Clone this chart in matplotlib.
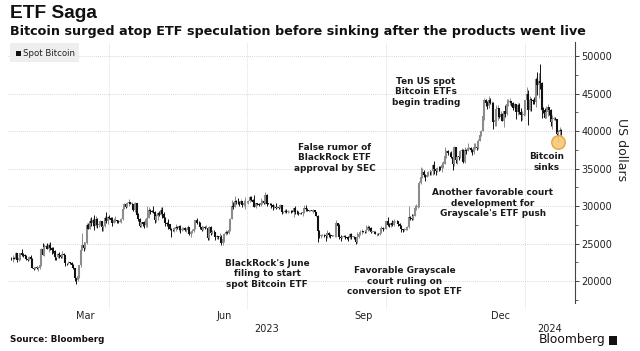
import matplotlib
matplotlib.use("Agg")
import matplotlib.pyplot as plt
import matplotlib.dates as mdates
import matplotlib.transforms as mtransforms
from matplotlib.patches import Rectangle
import numpy as np
import datetime as dt

# ---------------- data (USD thousands, daily, from 2023-01-26) ----------------
start_date = dt.date(2023, 1, 26)
first_open = 23.05

closes = [
    23.01, 23.08, 22.96, 23.75, 22.84, 23.13,
    23.73, 23.49, 23.43, 23.33, 22.94, 22.76, 23.26, 22.95, 21.80, 21.63, 21.86, 21.79, 21.79, 22.20,
    24.33, 23.53, 24.57, 24.63, 24.28, 24.84, 24.44, 24.19, 23.95, 23.20, 23.16, 23.56, 23.49, 23.15,
    23.65, 23.48, 22.36, 22.35, 22.43, 22.41, 22.20, 21.72, 20.36, 20.19, 20.63, 22.16, 24.20, 24.75,
    24.38, 25.06, 27.42, 26.97, 28.04, 27.77, 28.18, 27.31, 28.33, 27.49, 27.49, 28.00, 27.14, 27.27, 28.35, 28.03, 28.48,
    28.46, 28.20, 27.79, 28.17, 28.17, 28.03, 27.92, 27.95, 28.33, 29.65, 30.23, 29.89, 30.40, 30.49, 30.32,
    30.32, 29.45, 30.40, 28.82, 28.25, 27.28, 27.82, 27.59, 27.53, 28.31, 28.42, 29.47, 29.34, 29.25, 29.23,
    28.09, 28.68, 29.03, 28.85, 29.53, 28.90, 28.45, 27.69, 27.65, 27.62, 26.99, 26.80, 26.78, 26.93, 27.19,
    27.03, 27.40, 26.83, 26.89, 27.12, 26.75, 26.85, 27.23, 26.33, 26.47, 26.72, 26.87, 28.09, 27.75, 27.70, 27.22,
    26.82, 27.25, 27.07, 27.12, 25.76, 27.24, 26.35, 26.50, 26.48, 25.85, 25.94, 25.90, 25.92, 25.12, 25.58,
    26.33, 26.51, 26.34, 26.85, 28.33, 30.03, 29.91, 30.70, 30.55, 30.48, 30.27, 30.69, 30.09, 30.45, 30.48,
    30.59, 30.62, 31.16, 30.77, 30.51, 29.91, 30.35, 30.29, 30.17, 30.41, 30.62, 30.39, 31.48, 30.31, 30.30,
    30.25, 30.14, 29.86, 29.91, 29.80, 29.91, 29.79, 30.08, 29.18, 29.23, 29.35, 29.21, 29.31, 29.35, 29.28, 29.23,
    29.70, 29.18, 29.17, 28.87, 29.05, 29.04, 29.18, 29.77, 29.58, 29.44, 29.40, 29.42, 29.28, 29.41, 29.17,
    28.70, 26.66, 26.05, 26.10, 26.19, 26.12, 26.04, 26.43, 26.16, 26.05, 26.01, 26.09, 26.10, 27.73, 27.30, 25.93,
    25.80, 25.87, 25.97, 25.83, 25.78, 25.75, 26.24, 25.90, 25.90, 25.84, 25.16, 25.84, 26.23, 26.53, 26.60,
    26.57, 26.53, 26.76, 27.21, 27.13, 26.57, 26.58, 26.58, 26.26, 26.30, 26.22, 26.35, 27.02, 26.91, 26.97,
    27.98, 27.53, 27.43, 27.79, 27.41, 27.95, 27.97, 27.94, 27.60, 27.39, 26.87, 26.76, 26.86, 26.87, 27.15,
    28.52, 28.42, 28.33, 28.72, 29.68, 29.92, 29.99, 33.09, 33.90, 34.50, 34.16, 33.91, 34.09, 34.54, 34.50, 34.67,
    35.44, 34.94, 34.73, 35.08, 35.05, 35.04, 35.42, 35.65, 36.70, 37.31, 37.13, 37.07, 36.50, 35.54, 37.88,
    36.16, 36.60, 36.59, 37.39, 37.48, 35.81, 37.42, 37.29, 37.72, 37.79, 37.48, 37.25, 37.83, 37.86, 37.71,
    38.69, 39.48, 39.98, 41.99, 44.08, 43.75, 43.29, 44.17, 43.73, 43.79, 41.24, 41.45, 42.89, 43.02, 41.93,
    42.24, 41.36, 42.66, 42.27, 43.65, 43.87, 43.99, 43.74, 43.02, 43.61, 42.52, 43.44, 42.58, 42.07, 42.14, 42.27,
    44.17, 44.96, 42.85, 44.18, 44.16, 43.97, 43.93, 46.97, 46.12, 46.66, 46.39, 42.85, 42.84, 41.80, 42.51,
    43.15, 42.74, 41.26, 41.62, 41.66, 41.58, 39.57, 39.89, 40.08, 39.94,
]

highs = [
    23.24, 23.49, 23.17, 23.92, 23.80, 23.29,
    23.80, 24.24, 23.69, 23.58, 23.42, 23.16, 23.33, 23.45, 23.01, 21.91, 21.89, 22.06, 21.89, 22.29,
    24.36, 25.13, 24.99, 24.83, 25.09, 25.02, 25.25, 24.47, 24.57, 24.13, 23.22, 23.69, 23.86, 23.60,
    23.96, 23.78, 23.48, 22.41, 22.61, 22.55, 22.53, 22.27, 21.80, 20.37, 20.79, 22.19, 24.57, 26.39,
    25.24, 25.18, 27.76, 27.73, 28.39, 28.50, 28.44, 28.80, 28.71, 28.38, 27.77, 28.20, 28.01, 27.49, 28.62, 29.16, 28.64,
    28.80, 28.52, 28.47, 28.43, 28.72, 28.18, 28.10, 28.15, 28.44, 29.77, 30.42, 30.45, 30.59, 30.95, 30.60,
    30.55, 30.32, 30.47, 30.41, 29.07, 28.37, 27.87, 27.82, 28.00, 28.39, 30.02, 29.87, 29.57, 29.45, 29.95,
    29.34, 28.88, 29.26, 29.35, 29.84, 29.82, 29.16, 28.52, 27.83, 28.32, 27.63, 27.05, 27.03, 27.19, 27.65,
    27.28, 27.47, 27.48, 27.18, 27.16, 27.26, 27.05, 27.46, 27.23, 26.63, 26.93, 26.89, 28.19, 28.43, 28.04, 27.83,
    27.35, 27.30, 27.29, 27.43, 27.13, 27.33, 27.36, 26.79, 26.76, 26.53, 26.20, 26.01, 26.40, 26.07, 25.73,
    26.46, 26.77, 26.68, 26.97, 28.39, 30.76, 30.49, 31.39, 30.80, 31.04, 30.65, 31.00, 30.70, 30.82, 31.26,
    30.66, 30.79, 31.38, 31.32, 30.88, 31.50, 30.45, 30.38, 30.43, 31.03, 30.79, 30.97, 31.81, 31.63, 30.39,
    30.44, 30.34, 30.23, 30.19, 30.41, 30.05, 29.99, 30.33, 30.10, 29.31, 29.66, 29.57, 29.53, 29.40, 29.44, 29.49,
    29.74, 30.04, 29.41, 29.31, 29.10, 29.16, 29.24, 30.16, 30.09, 29.71, 29.52, 29.47, 29.45, 29.66, 29.45,
    29.22, 28.78, 26.81, 26.26, 26.29, 26.23, 26.14, 26.79, 26.55, 26.27, 26.10, 26.17, 26.21, 28.09, 27.76, 27.57,
    26.13, 25.97, 26.12, 26.09, 25.87, 26.00, 26.41, 26.43, 25.94, 25.98, 25.88, 26.53, 26.38, 26.81, 26.89,
    26.67, 26.63, 27.41, 27.48, 27.37, 27.15, 26.72, 26.63, 26.73, 26.43, 26.39, 26.82, 27.27, 27.23, 27.08,
    28.05, 28.58, 27.67, 27.83, 28.10, 28.26, 28.02, 28.09, 27.99, 27.73, 27.48, 26.95, 27.10, 26.97, 27.29,
    29.97, 28.61, 28.98, 28.92, 30.20, 30.29, 30.20, 33.40, 35.20, 35.13, 34.82, 34.24, 34.46, 34.73, 34.84, 34.72,
    35.56, 35.94, 34.94, 35.25, 35.38, 35.27, 35.89, 35.98, 37.93, 37.51, 37.41, 37.22, 37.40, 36.77, 37.96,
    37.93, 36.72, 36.84, 37.51, 37.72, 37.61, 37.85, 37.65, 38.42, 37.89, 37.84, 37.56, 38.37, 38.41, 38.15,
    38.97, 39.68, 40.18, 42.37, 44.41, 44.26, 44.01, 44.70, 44.35, 44.04, 43.84, 42.05, 43.43, 43.41, 43.08,
    42.70, 42.36, 42.72, 43.41, 44.24, 44.29, 44.37, 43.99, 43.92, 43.80, 43.61, 43.68, 43.80, 43.12, 42.61, 42.88,
    44.19, 45.90, 45.50, 44.73, 44.34, 44.23, 44.50, 47.24, 47.89, 47.70, 48.97, 46.50, 43.24, 43.07, 43.34,
    43.57, 43.20, 42.90, 42.13, 41.85, 41.87, 41.65, 40.13, 40.52, 40.28,
]

lows = [
    22.85, 22.58, 22.88, 22.94, 22.55, 22.72,
    22.81, 23.38, 23.22, 23.25, 22.75, 22.63, 22.75, 22.68, 21.73, 21.45, 21.61, 21.64, 21.40, 21.55,
    22.06, 23.51, 23.39, 24.47, 24.27, 23.88, 24.15, 23.61, 23.69, 22.85, 22.76, 23.08, 23.12, 23.03,
    23.09, 23.19, 21.97, 22.20, 22.28, 22.30, 21.95, 21.60, 20.05, 19.57, 19.99, 20.45, 21.92, 24.13,
    23.96, 24.21, 24.90, 26.88, 26.93, 27.30, 27.38, 26.76, 27.18, 27.10, 27.22, 27.44, 26.67, 26.69, 27.25, 27.72, 27.56,
    28.28, 27.89, 27.30, 27.68, 27.86, 27.75, 27.79, 27.87, 27.80, 28.17, 29.62, 29.69, 29.89, 30.04, 30.24,
    30.16, 29.27, 29.15, 28.66, 28.01, 27.14, 27.15, 27.36, 27.06, 27.21, 27.26, 28.40, 28.93, 29.15, 29.09,
    27.68, 27.87, 28.20, 28.69, 28.83, 28.39, 28.41, 27.32, 27.36, 26.87, 26.76, 25.87, 26.70, 26.60, 26.73,
    26.88, 26.61, 26.42, 26.64, 26.85, 26.70, 26.56, 26.85, 26.09, 25.90, 26.35, 26.59, 26.87, 27.60, 27.57, 26.87,
    26.61, 26.80, 26.95, 27.04, 25.45, 25.43, 26.16, 26.33, 26.34, 25.43, 25.66, 25.64, 25.73, 24.85, 24.80,
    25.17, 26.18, 26.32, 26.26, 26.66, 28.26, 29.64, 29.82, 30.29, 30.33, 29.95, 30.24, 29.92, 30.05, 29.60,
    30.34, 30.26, 30.58, 30.67, 30.21, 29.85, 29.72, 30.07, 30.06, 29.95, 30.30, 30.23, 30.27, 29.97, 30.25,
    30.07, 29.70, 29.53, 29.77, 29.64, 29.75, 29.64, 29.74, 28.90, 29.07, 29.12, 29.10, 29.13, 29.26, 29.03, 29.15,
    28.59, 28.98, 29.00, 28.79, 28.96, 28.98, 28.70, 29.13, 29.40, 29.35, 29.32, 29.39, 29.27, 29.13, 29.06,
    28.70, 25.17, 25.78, 25.80, 26.04, 25.86, 25.38, 25.80, 25.86, 25.78, 25.99, 25.97, 25.86, 25.91, 27.08, 25.66,
    25.36, 25.73, 25.81, 25.64, 25.58, 25.40, 25.63, 25.66, 25.81, 25.60, 24.93, 25.13, 25.77, 26.13, 26.24,
    26.48, 26.38, 26.41, 26.72, 26.85, 26.38, 26.48, 26.54, 26.21, 25.99, 26.09, 26.12, 26.34, 26.67, 26.89,
    26.95, 27.35, 27.16, 27.22, 27.38, 27.34, 27.87, 27.84, 27.30, 27.30, 26.56, 26.56, 26.69, 26.82, 26.85,
    27.13, 28.11, 28.17, 28.18, 28.71, 29.48, 29.72, 29.88, 32.88, 33.70, 33.89, 33.39, 33.87, 34.05, 34.10, 34.07,
    34.10, 34.33, 34.11, 34.55, 34.66, 34.75, 34.53, 35.11, 35.55, 36.36, 36.76, 36.74, 36.37, 34.80, 35.38,
    35.68, 35.54, 36.20, 36.39, 36.88, 35.75, 35.68, 36.90, 37.27, 37.63, 37.17, 36.75, 36.90, 37.63, 37.52,
    37.65, 38.65, 39.30, 39.96, 41.44, 43.37, 42.90, 43.11, 43.60, 43.59, 40.23, 40.68, 40.66, 41.44, 41.70,
    41.68, 41.27, 40.54, 41.87, 42.20, 43.34, 43.42, 43.32, 42.82, 42.75, 41.65, 42.10, 42.32, 41.30, 41.52, 41.97,
    42.20, 44.15, 40.75, 42.63, 42.63, 43.58, 43.66, 43.20, 44.78, 44.36, 45.61, 41.75, 42.46, 41.72, 41.72,
    42.05, 42.20, 40.68, 40.28, 41.45, 41.50, 39.45, 38.55, 39.52, 39.50,
]

month_labels = ["Mar", "Jun", "Sep", "Dec"]
month_label_dates = [dt.date(2023, 3, 16), dt.date(2023, 6, 16), dt.date(2023, 9, 16), dt.date(2023, 12, 16)]
quarter_lines = [dt.date(2023, 4, 1), dt.date(2023, 7, 1), dt.date(2023, 10, 1), dt.date(2024, 1, 1)]
year_labels = ["2023", "2024"]
y_ticks = [20000, 25000, 30000, 35000, 40000, 45000, 50000]
circle_date = dt.date(2024, 1, 23)
circle_value = 38.55

annotations = [
    ("BlackRock's June\nfiling to start\nspot Bitcoin ETF", 267, 274),
    ("Favorable Grayscale\ncourt ruling on\nconversion to spot ETF", 405, 281),
    ("False rumor of\nBlackRock ETF\napproval by SEC", 335, 158),
    ("Ten US spot\nBitcoin ETFs\nbegin trading", 426, 92),
    ("Another favorable court\ndevelopment for\nGrayscale's ETF push", 493, 203),
    ("Bitcoin\nsinks", 547, 162),
]

# ---------------- figure ----------------
W, H = 640, 351
fig = plt.figure(figsize=(W / 100, H / 100), dpi=100)
fig.patch.set_facecolor("white")

ax_l, ax_r, ax_t, ax_b = 8, 575, 42, 303
ax = fig.add_axes([ax_l / W, 1 - ax_b / H, (ax_r - ax_l) / W, (ax_b - ax_t) / H])

n = len(closes)
assert len(highs) == n and len(lows) == n
dates = [start_date + dt.timedelta(days=i) for i in range(n)]
x = mdates.date2num(dates)
c = np.array(closes) * 1000
o = np.concatenate([[first_open], closes[:-1]]) * 1000
hi = np.array(highs) * 1000
lo = np.array(lows) * 1000

up = c >= o
up_col, dn_col = "#8c8c8c", "#111111"
cols = np.where(up, up_col, dn_col)

ax.vlines(x, lo, hi, colors=cols, linewidth=0.7, zorder=3)
b0 = np.minimum(o, c)
b1 = np.maximum(o, c)
b1 = np.where(b1 - b0 < 60, b0 + 60, b1)
ax.vlines(x, b0, b1, colors=cols, linewidth=1.5, zorder=3)

# circle marker
ax.scatter([mdates.date2num(circle_date)], [circle_value * 1000], s=95,
           facecolor="#f6c46f", edgecolor="#e49a2c", linewidth=1.0, alpha=0.85, zorder=4)

x0 = mdates.date2num(dt.date(2023, 1, 24))
x1 = mdates.date2num(dt.date(2024, 2, 3))
ax.set_xlim(x0, x1)
ax.set_ylim(17067, 51867)

# grid
for yv in y_ticks:
    ax.axhline(yv, color="#c8c8c8", lw=0.6, ls=(0, (1, 1.5)), zorder=1)
for qd in quarter_lines:
    ax.axvline(mdates.date2num(qd), ymin=-0.02, ymax=1, color="#d0d0d0", lw=0.6,
               ls=(0, (1, 1.5)), zorder=1, clip_on=False)

for s in ["left", "top", "bottom"]:
    ax.spines[s].set_visible(False)
ax.spines["right"].set_color("#444444")
ax.spines["right"].set_linewidth(0.8)
ax.yaxis.tick_right()
ax.set_yticks(y_ticks)
ax.set_yticklabels([str(v) for v in y_ticks])
ax.set_yticks([v + 2500 for v in y_ticks[:-1]] + [17500], minor=True)
ax.tick_params(axis="y", which="major", direction="out", length=3, width=0.7,
               colors="#444444", labelsize=7, labelcolor="#222222", pad=1.5)
ax.tick_params(axis="y", which="minor", direction="out", length=2, width=0.6, colors="#444444")
ax.set_xticks([])

# x labels
trans = mtransforms.blended_transform_factory(ax.transData, ax.transAxes)
for lab, d in zip(month_labels, month_label_dates):
    ax.text(mdates.date2num(d), -0.05, lab, transform=trans, ha="center", va="center",
            fontsize=7, color="#222222")
jan1 = mdates.date2num(dt.date(2024, 1, 1))
ax.text((x0 + jan1) / 2, -0.098, year_labels[0], transform=trans, ha="center", va="center",
        fontsize=7, color="#222222")
ax.text((jan1 + x1) / 2, -0.098, year_labels[1], transform=trans, ha="center", va="center",
        fontsize=7, color="#222222")

# annotations (pixel positions)
for txt, px, py in annotations:
    fig.text(px / W, 1 - py / H, txt, ha="center", va="center", fontsize=6.4,
             fontweight="bold", color="#1a1a1a", linespacing=1.25)

# titles
fig.text(10 / W, 1 - 13 / H, "ETF Saga", fontsize=13.8, fontweight="bold", va="center",
         color="#111111", family=["Liberation Sans Narrow", "Liberation Sans", "DejaVu Sans"])
fig.text(10 / W, 1 - 31 / H, "Bitcoin surged atop ETF speculation before sinking after the products went live",
         fontsize=9.2, fontweight="bold", va="center", color="#111111")

# legend box
fig.add_artist(Rectangle((10 / W, 1 - 62 / H), 69 / W, 19 / H, transform=fig.transFigure,
                         facecolor="#eeeeee", edgecolor="none", zorder=5))
fig.add_artist(Rectangle((16 / W, 1 - 55.5 / H), 5 / W, 5 / H, transform=fig.transFigure,
                         facecolor="#111111", edgecolor="none", zorder=6))
fig.text(23 / W, 1 - 53 / H, "Spot Bitcoin", fontsize=6.2, va="center", color="#222222", zorder=6)

# y-axis title
fig.text(621 / W, 1 - 150 / H, "US dollars", rotation=270, fontsize=9, ha="center", va="center",
         color="#222222")

# footer
fig.text(10 / W, 1 - 340 / H, "Source: Bloomberg", fontsize=6.3, fontweight="bold", va="center",
         color="#111111")
fig.text(606 / W, 1 - 340 / H, "Bloomberg", fontsize=8.8, ha="right", va="center", color="#111111")
fig.add_artist(Rectangle((609 / W, 1 - 345 / H), 8 / W, 9 / H, transform=fig.transFigure,
                         facecolor="#111111", edgecolor="none"))

fig.savefig("out.png", dpi=100)
